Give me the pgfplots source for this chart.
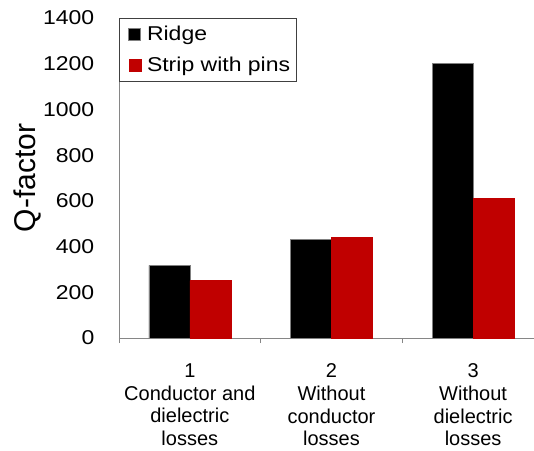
\documentclass[border=0pt]{standalone}
\usepackage{fontspec}
\setmainfont{Liberation Sans}
\newfontfamily\widefont[FakeStretch=1.15]{Liberation Sans}
\usepackage{pgfplots}
\pgfplotsset{compat=1.18}
\definecolor{axisgray}{HTML}{868686}
\definecolor{legendgray}{HTML}{404040}
\definecolor{stripred}{HTML}{C00000}

\begin{document}
\begin{tikzpicture}
\useasboundingbox (-119pt,-112pt) rectangle (415pt,338pt);
\begin{axis}[
    scale only axis,
    width=415pt, height=320pt,
    ybar=0pt, bar width=41pt,
    xmin=0.5, xmax=3.43,
    ymin=0, ymax=1400,
    ytick={0,200,...,1400},
    xtick={1,2,3},
    xticklabels={1\\Conductor and\\dielectric\\losses,
                 2\\Without\\conductor\\losses,
                 3\\Without\\dielectric\\losses},
    axis x line=bottom, axis y line=left,
    axis line style={-, draw=axisgray, line width=0.9pt},
    major tick length=5pt,
    xtick style={draw=none},
    ytick style={draw=none},
    extra x ticks={0.5,1.5,2.5},
    extra x tick labels={},
    extra x tick style={tick align=outside, xtick style={draw=axisgray, line width=0.9pt}},
    /pgf/number format/1000 sep={},
    /pgf/number format/assume math mode=true,
    yticklabel style={font=\widefont\fontsize{20}{23}\selectfont, inner sep=0pt, anchor=east, xshift=-22pt},
    xticklabel style={font=\fontsize{20}{22.7}\selectfont, align=center, inner sep=0pt, anchor=north, yshift=-23pt},
    ylabel={Q-factor},
    ylabel style={font=\fontsize{30}{32}\selectfont, at={(axis description cs:-0.2024,0.5)}, anchor=base, rotate=0},
    legend style={at={(0,1)}, anchor=north west, draw=legendgray, line width=0.8pt,
        font=\widefont\fontsize{20}{23}\selectfont, inner xsep=4pt, inner ysep=6pt,
        row sep=11pt, legend cell align=left},
    legend image code/.code={\fill[#1] (5pt,-6pt) rectangle (17pt,6pt); \path (0pt,0pt) (21pt,0pt);},
]
\addplot[fill=black, draw=gray, line width=0.6pt] coordinates {(1,318) (2,433) (3,1202)};
\addplot[fill=stripred, draw=stripred, line width=0.3pt] coordinates {(1,251) (2,441) (3,612)};
\legend{Ridge, Strip with pins}
\end{axis}
\end{tikzpicture}
\end{document}
